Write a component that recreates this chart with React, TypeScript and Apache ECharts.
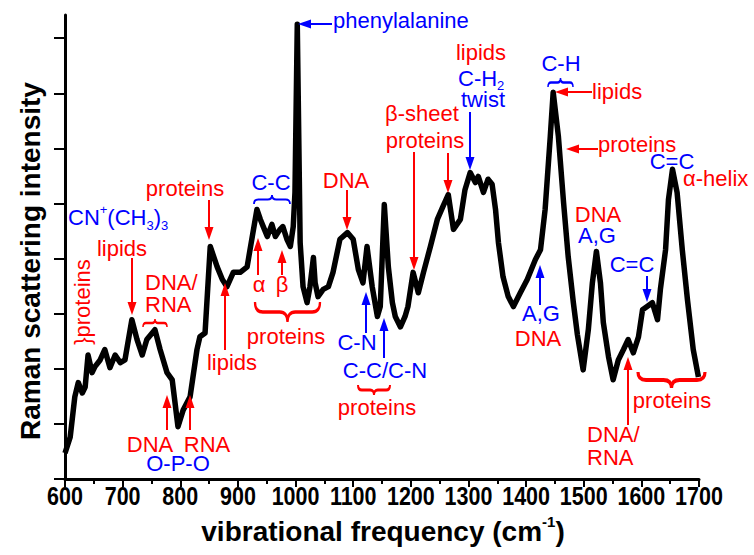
import React, { useEffect, useRef } from "react";
import * as echarts from "echarts";

// Raman shift (cm^-1) and intensity (a.u.)
const wavenumbers = [
  600, 609, 617, 623, 630, 635, 640, 647, 652, 661,
  669, 678, 687, 696, 704, 716, 725, 734, 742, 756,
  765, 777, 786, 796, 805, 817, 829, 834, 843, 852,
  864, 873, 881, 892, 904, 916, 921, 933, 939, 944,
  951, 959, 965, 973, 978, 985, 991, 996, 999, 1003,
  1008, 1013, 1020, 1025, 1031, 1034, 1039, 1048, 1057, 1065,
  1077, 1090, 1100, 1109, 1117, 1124, 1133, 1142, 1147, 1154,
  1161, 1168, 1173, 1182, 1190, 1195, 1204, 1213, 1222, 1234,
  1246, 1256, 1265, 1274, 1286, 1294, 1303, 1312, 1317, 1326,
  1334, 1341, 1347, 1352, 1360, 1369, 1378, 1390, 1402, 1416,
  1425, 1433, 1442, 1447, 1456, 1465, 1473, 1482, 1489, 1499,
  1508, 1515, 1522, 1529, 1534, 1543, 1551, 1560, 1569, 1577,
  1586, 1595, 1602, 1610, 1619, 1628, 1633, 1642, 1647, 1654,
  1662, 1671, 1680, 1690, 1699,
];
const intensity = [
  0.47, 0.76, 1.49, 1.75, 1.56, 1.67, 2.25, 1.93, 2.04, 2.16,
  2.35, 2.02, 2.25, 2.11, 2.16, 2.89, 2.53, 2.25, 2.53, 2.71,
  2.35, 1.93, 1.8, 0.95, 1.25, 1.49, 2.35, 2.58, 2.65, 4.22,
  3.85, 3.62, 3.49, 3.75, 3.75, 3.85, 4.16, 4.89, 4.71, 4.58,
  4.4, 4.62, 4.4, 4.53, 4.58, 4.35, 4.22, 4.58, 5.2, 8.25,
  4.29, 3.49, 3.2, 3.49, 4.02, 3.56, 3.31, 3.44, 3.49, 3.75,
  4.35, 4.47, 4.35, 3.8, 3.56, 4.22, 3.49, 2.95, 3.13, 4.98,
  3.85, 3.2, 2.95, 2.76, 2.95, 3.13, 3.75, 3.38, 3.75, 4.22,
  4.71, 4.95, 5.16, 4.53, 4.71, 5.25, 5.56, 5.38, 5.49, 5.2,
  5.44, 5.35, 4.89, 4.29, 3.67, 3.31, 3.13, 3.38, 3.62, 3.98,
  4.16, 4.89, 6.22, 7.02, 6.22, 5.02, 4.04, 3.2, 2.62, 1.98,
  2.71, 3.56, 4.13, 3.56, 2.84, 2.22, 1.8, 2.16, 2.35, 2.53,
  2.29, 2.58, 3.07, 3.13, 3.2, 2.89, 3.44, 4.16, 5.07, 5.62,
  5.2, 4.16, 3.25, 2.35, 1.85,
];
const xTickLabels = [600, 700, 800, 900, 1000, 1100, 1200, 1300, 1400, 1500, 1600, 1700];
const yTickValues = [0, 1, 2, 3, 4, 5, 6, 7, 8];

const RED = "#ff0000";
const BLUE = "#0000ff";
const SANS = "'Liberation Sans', Arial, Helvetica, sans-serif";

echarts.graphic.registerShape(
  "brace",
  echarts.graphic.extendPath(
    "M0,0 Q0,10 12,10 L38,10 Q50,10 50,20 Q50,10 62,10 L88,10 Q100,10 100,0",
    {}
  )
);

const richSubSup = (fill: string) => ({
  sub: { fontSize: 13, fontFamily: SANS, fill, verticalAlign: "bottom", lineHeight: 13 },
  sup: { fontSize: 13, fontFamily: SANS, fill, verticalAlign: "top", lineHeight: 13 },
});

function t(text: string, x: number, y: number, fill: string, align = "center", extra: any = {}) {
  return {
    type: "text",
    x,
    y,
    z: 10,
    silent: true,
    style: {
      text,
      fill,
      font: `22px ${SANS}`,
      lineHeight: 19,
      align,
      textAlign: align,
      verticalAlign: "middle",
      textVerticalAlign: "middle",
      ...extra,
    },
  };
}

function arrowV(x: number, yFrom: number, yTip: number, color: string) {
  const dir = yTip > yFrom ? 1 : -1;
  const hl = 13;
  const hw = 4.5;
  return [
    { type: "line", z: 10, silent: true, shape: { x1: x, y1: yFrom, x2: x, y2: yTip - dir * (hl - 2) }, style: { stroke: color, lineWidth: 2 } },
    { type: "polygon", z: 10, silent: true, shape: { points: [[x, yTip], [x - hw, yTip - dir * hl], [x + hw, yTip - dir * hl]] }, style: { fill: color } },
  ];
}

function arrowH(xFrom: number, xTip: number, y: number, color: string) {
  const dir = xTip > xFrom ? 1 : -1;
  const hl = 13;
  const hw = 4.5;
  return [
    { type: "line", z: 10, silent: true, shape: { x1: xFrom, y1: y, x2: xTip - dir * (hl - 2), y2: y }, style: { stroke: color, lineWidth: 2 } },
    { type: "polygon", z: 10, silent: true, shape: { points: [[xTip, y], [xTip - dir * hl, y - hw], [xTip - dir * hl, y + hw]] }, style: { fill: color } },
  ];
}

function brace(x1: number, x2: number, y: number, h: number, color: string, pointUp: boolean, lw: number) {
  return {
    type: "brace",
    z: 10,
    silent: true,
    x: x1,
    y: pointUp ? y + h : y,
    scaleX: (x2 - x1) / 100,
    scaleY: ((pointUp ? -1 : 1) * h) / 20,
    style: { stroke: color, fill: "none", lineWidth: lw, strokeNoScale: true },
  };
}

export default function App() {
  const ref = useRef<HTMLDivElement>(null);

  useEffect(() => {
    if (!ref.current) return;
    const chart = echarts.init(ref.current, undefined, { renderer: "svg" });

    chart.setOption({
      animation: false,
      backgroundColor: "#fff",
      grid: { left: 65, right: 55, top: 15, bottom: 76 },
      xAxis: {
        type: "value",
        min: 600,
        max: 1700,
        interval: 100,
        axisLine: { show: true, lineStyle: { color: "#000", width: 3 } },
        axisTick: { show: true, length: 8, lineStyle: { color: "#000", width: 2 } },
        minorTick: { show: true, splitNumber: 2, length: 5, lineStyle: { color: "#000", width: 2 } },
        axisLabel: { show: false },
        splitLine: { show: false },
        minorSplitLine: { show: false },
      },
      yAxis: {
        type: "value",
        min: 0,
        max: 8.42,
        interval: 1,
        axisLine: { show: true, lineStyle: { color: "#000", width: 3 } },
        axisTick: { show: true, length: 11, lineStyle: { color: "#000", width: 2 }, customValues: yTickValues },
        axisLabel: { show: false },
        splitLine: { show: false },
      },
      series: [
        {
          type: "line",
          data: wavenumbers.map((w, i) => [w, intensity[i]]),
          showSymbol: false,
          symbol: "none",
          lineStyle: { color: "#000", width: 5.5, join: "round" },
          itemStyle: { color: "#000" },
          z: 2,
        },
      ],
    });

    // condensed bold tick labels placed through the axis scale
    const axisY = chart.convertToPixel({ yAxisIndex: 0 }, 0) as number;
    const tickLabels = xTickLabels.map((v) => ({
      type: "text",
      x: chart.convertToPixel({ xAxisIndex: 0 }, v) as number,
      y: axisY + 17,
      scaleX: 0.86,
      silent: true,
      style: {
        text: String(v),
        fill: "#000",
        font: `bold 25px ${SANS}`,
        align: "center",
        textAlign: "center",
        verticalAlign: "middle",
        textVerticalAlign: "middle",
      },
    }));

    const elements: any[] = [
      ...tickLabels,
      // axis titles
      {
        type: "text",
        x: 30,
        y: 261,
        rotation: Math.PI / 2,
        silent: true,
        style: { text: "Raman scattering intensity", fill: "#000", font: `bold 28px ${SANS}`, align: "center", textAlign: "center", verticalAlign: "middle", textVerticalAlign: "middle" },
      },
      {
        type: "text",
        x: 383,
        y: 531,
        silent: true,
        style: {
          text: "vibrational frequency (cm{sup|-1})",
          fill: "#000",
          font: `bold 28px ${SANS}`,
          lineHeight: 34,
          align: "center",
          textAlign: "center",
          verticalAlign: "middle",
          textVerticalAlign: "middle",
          rich: { sup: { fontSize: 15, fontWeight: "bold", fontFamily: SANS, fill: "#000", verticalAlign: "top", lineHeight: 15 } },
        },
      },

      // blue labels
      t("phenylalanine", 333, 20, BLUE, "left"),
      t("C-H{sub|2}", 458, 78, BLUE, "left", { lineHeight: 27, rich: richSubSup(BLUE) }),
      t("twist", 483, 99, BLUE),
      t("C-C", 271, 182, BLUE),
      t("CN{sup|+}(CH{sub|3}){sub|3}", 68, 217, BLUE, "left", { lineHeight: 29, rich: richSubSup(BLUE) }),
      t("O-P-O", 178, 463, BLUE),
      t("C-N", 357, 342, BLUE),
      t("C-C/C-N", 385, 370, BLUE),
      t("C-H", 561, 63, BLUE),
      t("C=C", 672, 161, BLUE),
      t("A,G", 597, 235, BLUE),
      t("C=C", 632, 264, BLUE),
      t("A,G", 541, 313, BLUE),

      // red labels
      t("lipids", 481, 52, RED),
      t("β-sheet", 422, 113, RED),
      t("proteins", 425, 140, RED),
      t("DNA", 346, 180, RED),
      t("proteins", 185, 188, RED),
      t("lipids", 122, 248, RED),
      t("DNA/", 145, 282, RED, "left"),
      t("RNA", 145, 304, RED, "left"),
      {
        type: "text",
        x: 82,
        y: 302,
        rotation: Math.PI / 2,
        z: 10,
        silent: true,
        style: { text: "}proteins", fill: RED, font: `22px ${SANS}`, align: "center", textAlign: "center", verticalAlign: "middle", textVerticalAlign: "middle" },
      },
      t("lipids", 232, 362, RED),
      t("DNA", 150, 444, RED),
      t("RNA", 207, 444, RED),
      t("α", 259, 284, RED),
      t("β", 282, 284, RED),
      t("proteins", 286, 336, RED),
      t("proteins", 377, 407, RED),
      t("lipids", 592, 91, RED, "left"),
      t("proteins", 598, 144, RED, "left"),
      t("α-helix", 683, 178, RED, "left"),
      t("DNA", 598, 214, RED),
      t("DNA", 538, 338, RED),
      t("proteins", 672, 400, RED),
      t("DNA/", 587, 434, RED, "left"),
      t("RNA", 587, 457, RED, "left"),

      // blue arrows
      ...arrowH(332, 298, 24, BLUE),
      ...arrowV(470, 112, 170, BLUE),
      ...arrowV(366, 333, 292, BLUE),
      ...arrowV(384, 358, 318, BLUE),
      ...arrowV(540, 305, 265, BLUE),
      ...arrowV(647, 276, 302, BLUE),

      // red arrows
      ...arrowV(209, 200, 240, RED),
      ...arrowV(347, 190, 230, RED),
      ...arrowV(414, 152, 270, RED),
      ...arrowV(448, 153, 193, RED),
      ...arrowV(132, 258, 315, RED),
      ...arrowV(225, 350, 283, RED),
      ...arrowV(167, 430, 395, RED),
      ...arrowV(190, 430, 395, RED),
      ...arrowV(258, 275, 238, RED),
      ...arrowV(282, 275, 250, RED),
      ...arrowH(592, 555, 92, RED),
      ...arrowH(598, 566, 149, RED),
      ...arrowV(628, 425, 357, RED),

      // braces
      brace(254, 290, 195, 9, BLUE, true, 2),
      brace(548, 573, 78, 9, BLUE, true, 2),
      brace(143, 167, 319, 8, RED, true, 2),
      brace(255, 320, 302, 20, RED, false, 3.5),
      brace(358, 390, 385, 10, RED, false, 2.5),
      brace(638, 705, 372, 16, RED, false, 3.5),
    ];

    chart.setOption({ graphic: { elements } });

    return () => chart.dispose();
  }, []);

  return <div ref={ref} style={{ position: "fixed", left: 0, top: 0, width: 754, height: 555 }} />;
}
